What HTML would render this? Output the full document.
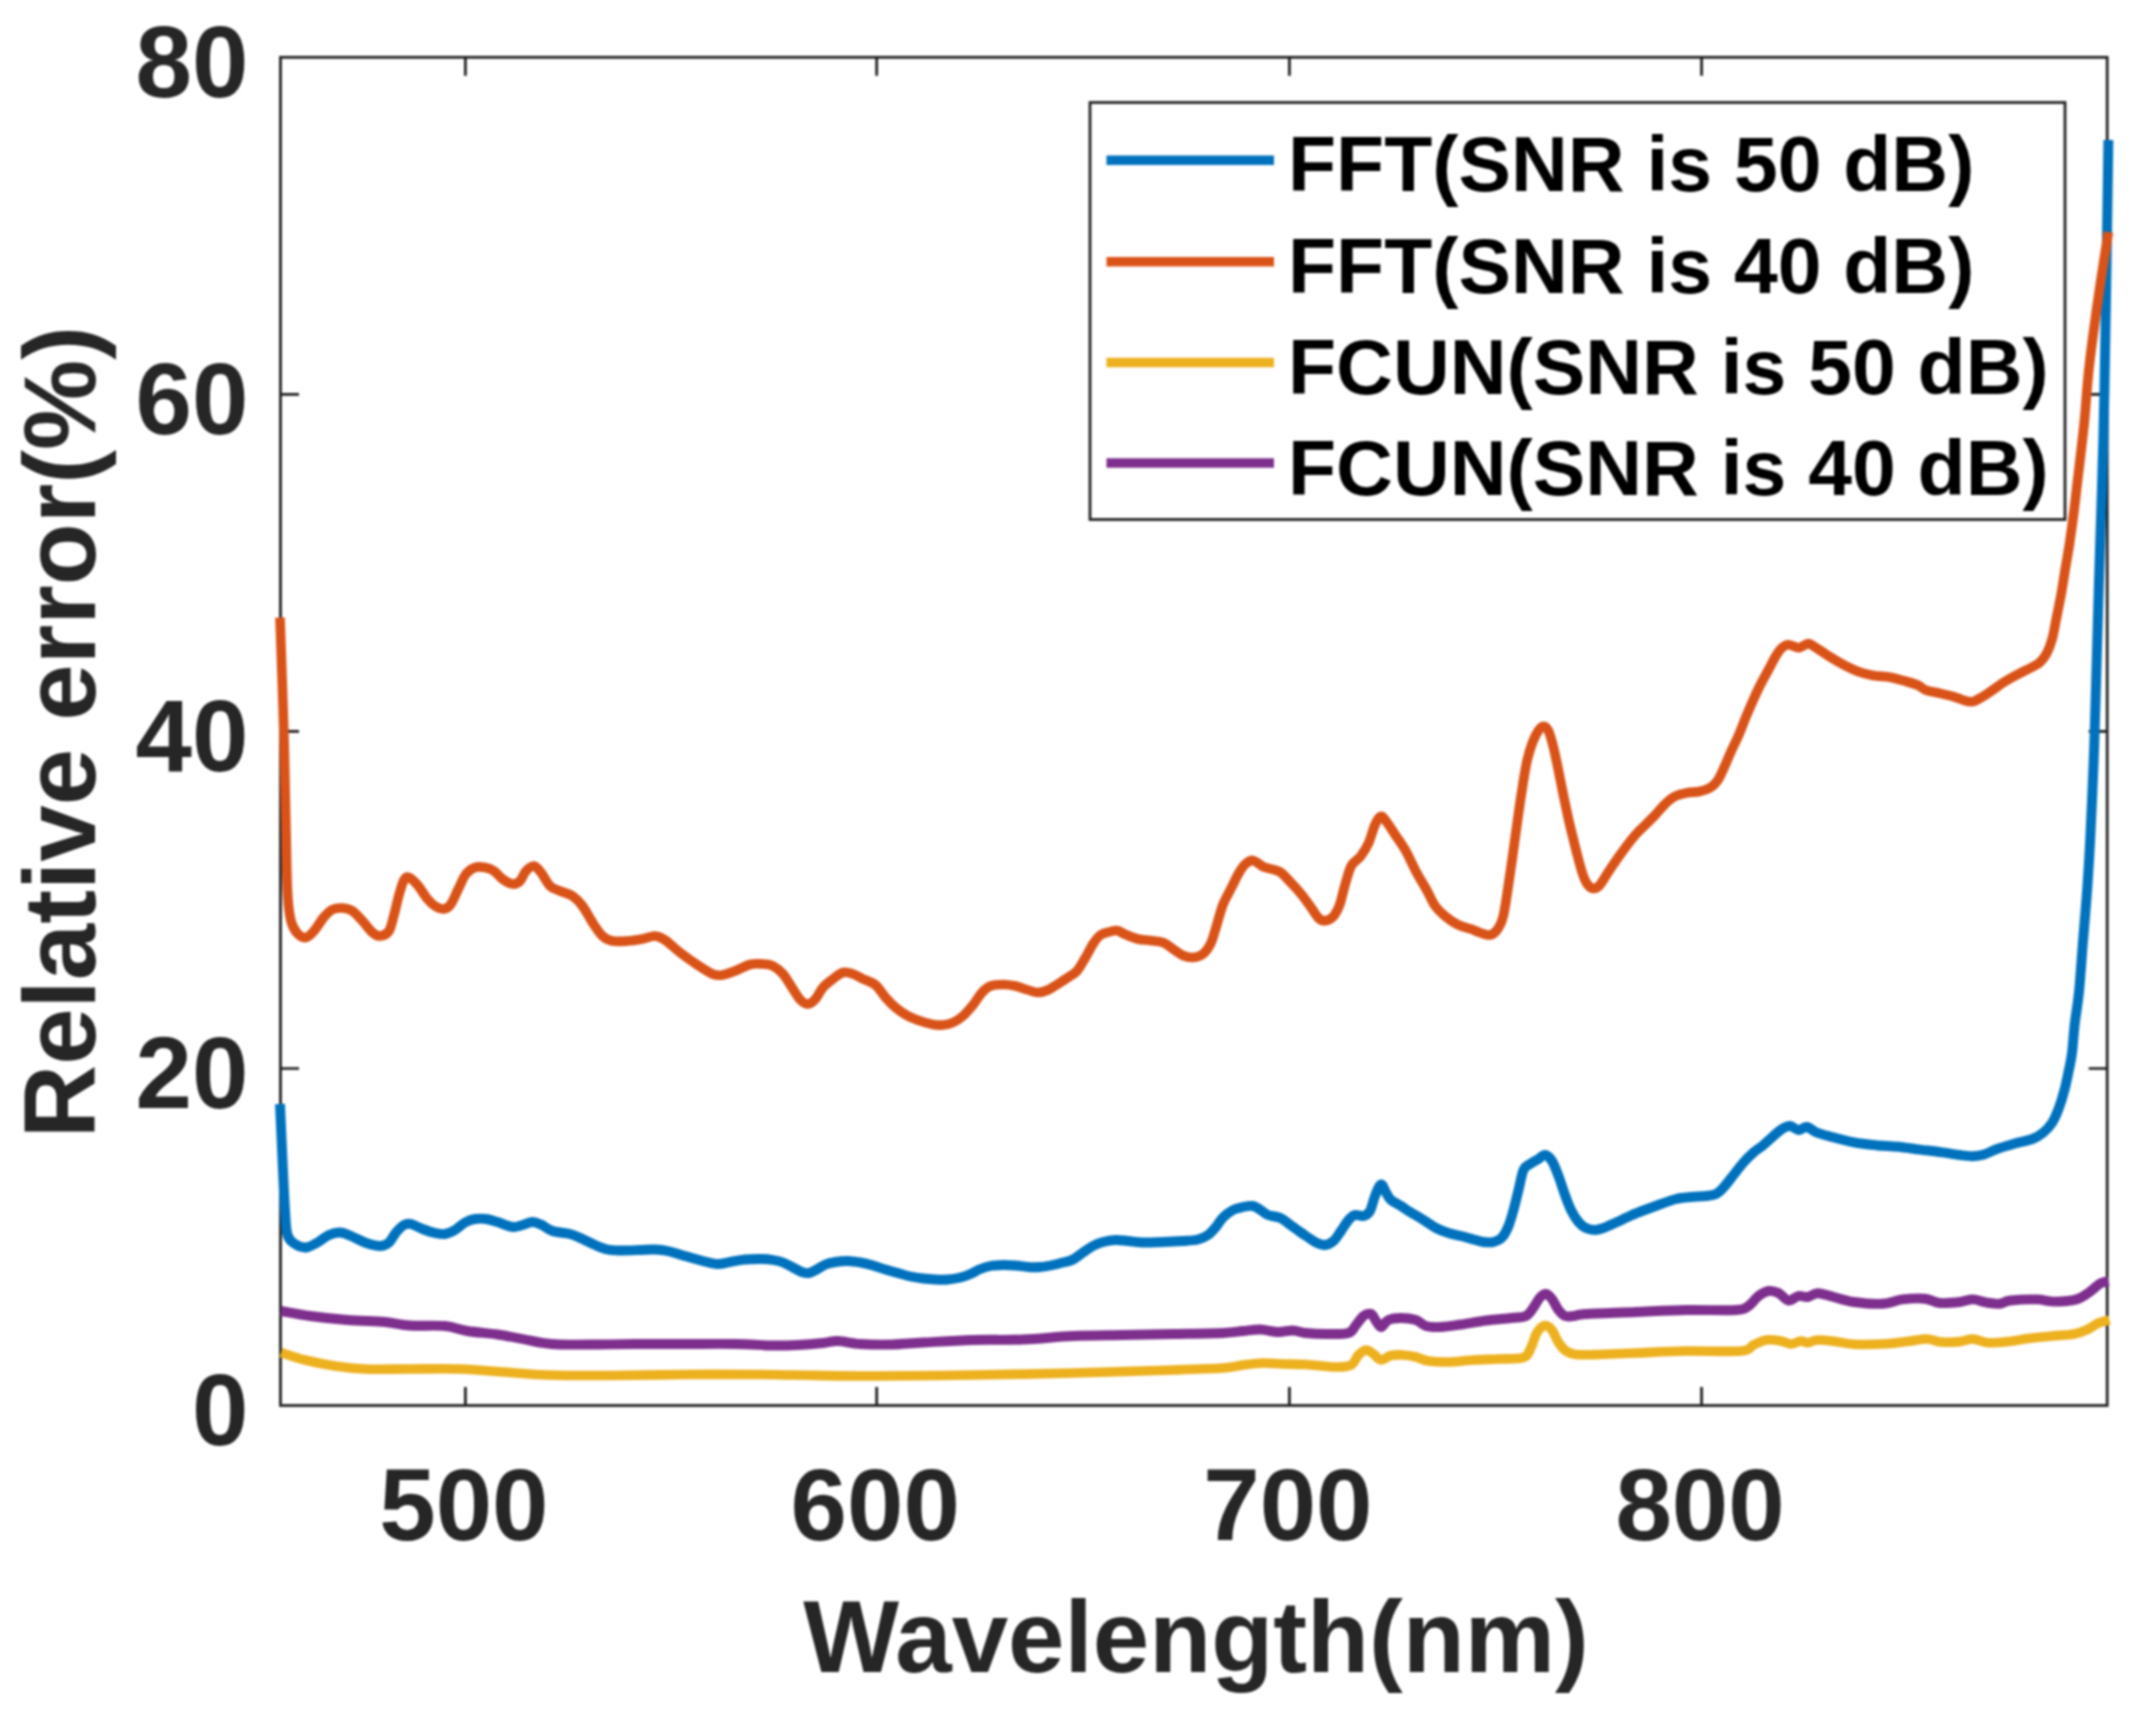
<!DOCTYPE html>
<html lang="en"><head><meta charset="utf-8"><title>Relative error vs wavelength</title>
<style>html,body{margin:0;padding:0;background:#fff;overflow:hidden}svg{display:block;filter:blur(0.8px)}</style></head>
<body>
<svg width="2133" height="1726" viewBox="0 0 2133 1726">
<rect width="2133" height="1726" fill="#fff"/>
<g stroke="#1c1c1c" stroke-width="2.7" fill="none" stroke-linecap="butt">
<rect x="280.5" y="57.3" width="1826.7" height="1348.2"/>
<path d="M465.4,1405.5 v-18.5 M465.4,57.3 v18.5"/>
<path d="M876.7,1405.5 v-18.5 M876.7,57.3 v18.5"/>
<path d="M1289.4,1405.5 v-18.5 M1289.4,57.3 v18.5"/>
<path d="M1701.6,1405.5 v-18.5 M1701.6,57.3 v18.5"/>
<path d="M280.5,1068.5 h18.5 M2107.2,1068.5 h-18.5"/>
<path d="M280.5,731.3 h18.5 M2107.2,731.3 h-18.5"/>
<path d="M280.5,394.3 h18.5 M2107.2,394.3 h-18.5"/>
</g>
<path d="M280.0,1104.0 C280.4,1113.3 281.7,1142.3 282.5,1160.0 C283.3,1177.7 284.2,1197.5 285.0,1210.0 C285.8,1222.5 285.8,1229.3 287.5,1235.0 C289.2,1240.7 291.9,1241.9 295.0,1244.0 C298.1,1246.1 302.2,1247.8 306.0,1247.5 C309.8,1247.2 313.7,1244.6 317.5,1242.5 C321.3,1240.4 325.2,1236.7 329.0,1235.0 C332.8,1233.3 336.3,1232.3 340.0,1232.5 C343.7,1232.7 346.8,1234.3 351.0,1236.0 C355.2,1237.7 360.2,1240.8 365.0,1242.5 C369.8,1244.2 376.0,1246.0 380.0,1246.0 C384.0,1246.0 386.3,1244.8 389.0,1242.5 C391.7,1240.2 393.5,1235.4 396.0,1232.5 C398.5,1229.6 401.5,1226.4 404.0,1225.0 C406.5,1223.6 407.9,1223.3 411.0,1224.0 C414.1,1224.7 418.5,1227.5 422.5,1229.0 C426.5,1230.5 431.2,1232.2 435.0,1233.0 C438.8,1233.8 441.7,1234.5 445.0,1234.0 C448.3,1233.5 451.7,1231.9 455.0,1230.0 C458.3,1228.1 461.7,1224.3 465.0,1222.5 C468.3,1220.7 471.5,1219.6 475.0,1219.0 C478.5,1218.4 482.2,1218.5 486.0,1219.0 C489.8,1219.5 493.1,1220.7 497.5,1222.0 C501.9,1223.3 508.3,1226.5 512.5,1227.0 C516.7,1227.5 519.2,1225.8 522.5,1225.0 C525.8,1224.2 529.4,1222.1 532.5,1222.0 C535.6,1221.9 537.7,1223.0 541.0,1224.5 C544.3,1226.0 547.7,1229.4 552.5,1231.0 C557.3,1232.6 565.0,1232.7 570.0,1234.0 C575.0,1235.3 578.3,1237.2 582.5,1239.0 C586.7,1240.8 590.8,1243.2 595.0,1245.0 C599.2,1246.8 603.3,1248.6 607.5,1249.5 C611.7,1250.4 614.6,1250.4 620.0,1250.5 C625.4,1250.6 634.2,1250.2 640.0,1250.0 C645.8,1249.8 650.4,1249.3 655.0,1249.5 C659.6,1249.7 662.5,1249.9 667.5,1251.0 C672.5,1252.1 679.2,1254.3 685.0,1256.0 C690.8,1257.7 697.1,1259.7 702.5,1261.0 C707.9,1262.3 712.9,1263.8 717.5,1264.0 C722.1,1264.2 725.4,1262.8 730.0,1262.0 C734.6,1261.2 739.6,1260.0 745.0,1259.5 C750.4,1259.0 757.8,1258.9 762.5,1259.0 C767.2,1259.1 769.6,1259.4 773.0,1260.0 C776.4,1260.6 779.7,1261.2 783.0,1262.5 C786.3,1263.8 789.9,1265.9 793.0,1267.5 C796.1,1269.1 799.1,1271.1 801.8,1272.0 C804.5,1272.9 806.5,1273.4 809.0,1273.0 C811.5,1272.6 814.0,1270.9 816.8,1269.5 C819.5,1268.1 822.4,1265.8 825.5,1264.5 C828.6,1263.2 831.8,1262.6 835.5,1262.0 C839.2,1261.4 843.8,1260.9 848.0,1261.0 C852.2,1261.1 856.3,1261.8 860.5,1262.5 C864.7,1263.2 868.8,1264.3 873.0,1265.5 C877.2,1266.7 881.3,1268.2 885.5,1269.5 C889.7,1270.8 893.8,1271.8 898.0,1273.0 C902.2,1274.2 906.3,1275.6 910.5,1276.5 C914.7,1277.4 918.8,1278.0 923.0,1278.5 C927.2,1279.0 931.3,1279.3 935.5,1279.5 C939.7,1279.7 943.8,1279.8 948.0,1279.5 C952.2,1279.2 956.8,1278.4 960.5,1277.5 C964.2,1276.6 967.2,1275.4 970.5,1274.0 C973.8,1272.6 977.2,1270.3 980.5,1269.0 C983.8,1267.7 986.8,1266.7 990.5,1266.0 C994.2,1265.3 998.8,1265.1 1003.0,1265.0 C1007.2,1264.9 1011.3,1265.2 1015.5,1265.5 C1019.7,1265.8 1023.8,1266.8 1028.0,1267.0 C1032.2,1267.2 1036.3,1267.3 1040.5,1267.0 C1044.7,1266.7 1049.2,1265.8 1053.0,1265.0 C1056.8,1264.2 1059.7,1263.4 1063.0,1262.5 C1066.3,1261.6 1069.7,1261.2 1073.0,1259.5 C1076.3,1257.8 1079.7,1254.8 1083.0,1252.5 C1086.3,1250.2 1089.7,1247.8 1093.0,1246.0 C1096.3,1244.2 1099.2,1243.0 1103.0,1242.0 C1106.8,1241.0 1111.3,1240.2 1115.5,1240.0 C1119.7,1239.8 1123.4,1240.6 1128.0,1241.0 C1132.6,1241.4 1137.2,1242.3 1143.0,1242.5 C1148.8,1242.7 1156.3,1242.2 1163.0,1242.0 C1169.7,1241.8 1177.2,1241.4 1183.0,1241.0 C1188.8,1240.6 1193.8,1240.5 1198.0,1239.5 C1202.2,1238.5 1205.1,1237.0 1208.0,1235.0 C1210.9,1233.0 1213.0,1230.4 1215.5,1227.5 C1218.0,1224.6 1220.1,1220.4 1223.0,1217.5 C1225.9,1214.6 1229.7,1211.8 1233.0,1210.0 C1236.3,1208.2 1239.7,1207.7 1243.0,1207.0 C1246.3,1206.3 1250.1,1205.5 1253.0,1206.0 C1255.9,1206.5 1258.0,1208.5 1260.5,1210.0 C1263.0,1211.5 1264.7,1213.7 1268.0,1215.0 C1271.3,1216.3 1276.8,1216.3 1280.5,1218.0 C1284.2,1219.7 1287.9,1223.2 1290.5,1225.0 C1293.1,1226.8 1293.4,1227.2 1296.0,1229.0 C1298.6,1230.8 1302.7,1233.8 1306.0,1236.0 C1309.3,1238.2 1312.8,1241.0 1316.0,1242.5 C1319.2,1244.0 1322.1,1245.2 1325.0,1245.0 C1327.9,1244.8 1330.8,1243.3 1333.5,1241.0 C1336.2,1238.7 1338.5,1234.5 1341.0,1231.0 C1343.5,1227.5 1346.2,1222.7 1348.5,1220.0 C1350.8,1217.3 1352.5,1215.7 1355.0,1215.0 C1357.5,1214.3 1361.0,1216.7 1363.5,1216.0 C1366.0,1215.3 1368.1,1214.3 1370.0,1211.0 C1371.9,1207.7 1373.2,1200.4 1375.0,1196.0 C1376.8,1191.6 1379.2,1185.1 1381.0,1184.5 C1382.8,1183.9 1384.3,1189.9 1386.0,1192.5 C1387.7,1195.1 1388.5,1197.8 1391.0,1200.0 C1393.5,1202.2 1397.7,1203.9 1401.0,1206.0 C1404.3,1208.1 1407.2,1210.2 1411.0,1212.5 C1414.8,1214.8 1419.3,1217.4 1423.5,1220.0 C1427.7,1222.6 1431.8,1225.8 1436.0,1228.0 C1440.2,1230.2 1444.3,1231.7 1448.5,1233.0 C1452.7,1234.3 1456.8,1234.9 1461.0,1236.0 C1465.2,1237.1 1469.8,1238.5 1473.5,1239.5 C1477.2,1240.5 1480.2,1241.6 1483.5,1242.0 C1486.8,1242.4 1490.4,1242.8 1493.5,1242.0 C1496.6,1241.2 1499.5,1240.2 1502.0,1237.5 C1504.5,1234.8 1506.6,1230.6 1508.5,1226.0 C1510.4,1221.4 1511.8,1216.0 1513.5,1210.0 C1515.2,1204.0 1516.8,1196.7 1518.5,1190.0 C1520.2,1183.3 1521.6,1174.3 1523.5,1170.0 C1525.4,1165.7 1527.5,1165.8 1530.0,1164.0 C1532.5,1162.2 1536.0,1160.5 1538.5,1159.0 C1541.0,1157.5 1542.8,1154.7 1545.0,1155.0 C1547.2,1155.3 1549.8,1157.5 1552.0,1161.0 C1554.2,1164.5 1556.3,1170.3 1558.5,1176.0 C1560.7,1181.7 1562.9,1189.3 1565.0,1195.0 C1567.1,1200.7 1568.8,1205.5 1571.0,1210.0 C1573.2,1214.5 1576.0,1219.0 1578.5,1222.0 C1581.0,1225.0 1583.2,1226.7 1586.0,1228.0 C1588.8,1229.3 1592.1,1230.0 1595.0,1230.0 C1597.9,1230.0 1600.0,1229.2 1603.5,1228.0 C1607.0,1226.8 1611.4,1224.6 1616.0,1222.5 C1620.6,1220.4 1626.0,1217.7 1631.0,1215.5 C1636.0,1213.3 1641.0,1211.4 1646.0,1209.5 C1651.0,1207.6 1656.0,1205.8 1661.0,1204.0 C1666.0,1202.2 1671.0,1200.2 1676.0,1199.0 C1681.0,1197.8 1686.0,1197.5 1691.0,1197.0 C1696.0,1196.5 1701.8,1196.5 1706.0,1196.0 C1710.2,1195.5 1713.1,1195.4 1716.0,1194.0 C1718.9,1192.6 1720.6,1190.7 1723.5,1187.5 C1726.4,1184.3 1730.2,1179.2 1733.5,1175.0 C1736.8,1170.8 1740.2,1166.2 1743.5,1162.5 C1746.8,1158.8 1750.2,1155.4 1753.5,1152.5 C1756.8,1149.6 1760.2,1147.8 1763.5,1145.0 C1766.8,1142.2 1770.4,1138.7 1773.5,1136.0 C1776.6,1133.3 1779.2,1130.7 1782.0,1129.0 C1784.8,1127.3 1787.2,1125.8 1790.0,1126.0 C1792.8,1126.2 1795.7,1129.8 1798.5,1130.0 C1801.3,1130.2 1804.0,1126.6 1807.0,1127.0 C1810.0,1127.4 1812.4,1130.8 1816.6,1132.5 C1820.8,1134.2 1825.8,1135.3 1832.0,1137.0 C1838.2,1138.7 1846.7,1141.0 1854.0,1142.4 C1861.3,1143.8 1868.7,1144.5 1876.0,1145.2 C1883.3,1145.9 1890.7,1146.1 1898.0,1146.8 C1905.3,1147.5 1912.7,1148.7 1920.0,1149.6 C1927.3,1150.5 1935.4,1151.4 1942.0,1152.3 C1948.6,1153.2 1954.5,1154.3 1959.7,1155.0 C1964.9,1155.7 1969.0,1156.3 1973.0,1156.2 C1977.0,1156.1 1980.0,1155.7 1984.0,1154.5 C1988.0,1153.3 1991.9,1150.8 1997.0,1149.0 C2002.1,1147.2 2008.9,1145.2 2014.8,1143.5 C2020.7,1141.8 2027.6,1140.8 2032.4,1139.0 C2037.2,1137.2 2040.1,1135.2 2043.4,1132.5 C2046.7,1129.8 2049.6,1126.6 2052.2,1122.6 C2054.8,1118.6 2056.8,1113.6 2058.8,1108.3 C2060.8,1103.0 2062.7,1096.8 2064.3,1090.6 C2066.0,1084.3 2067.4,1077.0 2068.7,1070.8 C2070.0,1064.6 2071.0,1061.1 2072.0,1053.2 C2073.0,1045.3 2073.6,1033.5 2074.8,1023.3 C2076.0,1013.1 2077.6,1005.9 2079.0,992.0 C2080.4,978.1 2081.7,957.3 2083.1,939.9 C2084.5,922.5 2086.1,905.1 2087.3,887.7 C2088.5,870.3 2089.4,856.5 2090.4,835.6 C2091.4,814.8 2092.7,785.2 2093.6,762.6 C2094.5,740.0 2094.7,730.4 2095.6,700.0 C2096.5,669.6 2097.7,623.3 2099.0,580.0 C2100.3,536.7 2102.1,486.7 2103.3,440.0 C2104.5,393.3 2105.2,350.0 2106.0,300.0 C2106.8,250.0 2108.0,166.7 2108.4,140.0" fill="none" stroke="#0072BD" stroke-width="9.9" stroke-linejoin="round" stroke-linecap="butt"/>
<path d="M280.0,617.5 C280.6,636.2 282.8,694.6 283.8,730.0 C284.8,765.4 285.4,803.0 286.0,830.0 C286.6,857.0 286.7,876.8 287.5,892.0 C288.3,907.2 289.3,914.1 291.0,921.0 C292.7,927.9 295.0,930.8 297.5,933.5 C300.0,936.2 303.2,937.9 306.0,937.5 C308.8,937.1 311.0,934.4 314.0,931.0 C317.0,927.6 320.9,920.6 324.0,917.0 C327.1,913.4 329.4,911.0 332.5,909.5 C335.6,908.0 339.2,907.8 342.5,908.0 C345.8,908.2 349.2,908.8 352.5,911.0 C355.8,913.2 359.2,917.4 362.5,921.0 C365.8,924.6 369.6,930.0 372.5,932.5 C375.4,935.0 377.2,936.2 380.0,936.0 C382.8,935.8 386.7,934.5 389.0,931.0 C391.3,927.5 392.3,921.0 394.0,915.0 C395.7,909.0 397.3,900.8 399.0,895.0 C400.7,889.2 402.3,882.9 404.0,880.0 C405.7,877.1 406.8,876.7 409.0,877.5 C411.2,878.3 414.4,881.4 417.5,885.0 C420.6,888.6 424.6,895.5 427.5,899.0 C430.4,902.5 432.2,904.3 435.0,906.0 C437.8,907.7 441.3,909.3 444.0,909.0 C446.7,908.7 448.5,907.6 451.0,904.0 C453.5,900.4 456.5,892.5 459.0,887.5 C461.5,882.5 463.3,877.3 466.0,874.0 C468.7,870.7 471.8,868.6 475.0,867.5 C478.2,866.4 481.8,866.9 485.0,867.5 C488.2,868.1 491.1,869.1 494.0,871.0 C496.9,872.9 499.4,876.8 502.5,879.0 C505.6,881.2 509.6,883.7 512.5,884.0 C515.4,884.3 517.8,883.2 520.0,881.0 C522.2,878.8 523.7,873.5 526.0,871.0 C528.3,868.5 531.5,865.8 534.0,866.0 C536.5,866.2 538.3,869.2 541.0,872.5 C543.7,875.8 546.8,882.9 550.0,886.0 C553.2,889.1 556.2,889.3 560.0,891.0 C563.8,892.7 568.8,893.5 572.5,896.0 C576.2,898.5 579.2,901.6 582.5,906.0 C585.8,910.4 589.2,917.5 592.5,922.5 C595.8,927.5 599.2,932.9 602.5,936.0 C605.8,939.1 608.3,940.2 612.5,941.0 C616.7,941.8 622.5,941.3 627.5,941.0 C632.5,940.7 637.9,939.8 642.5,939.0 C647.1,938.2 651.2,935.8 655.0,936.0 C658.8,936.2 660.8,937.2 665.0,940.0 C669.2,942.8 674.6,948.3 680.0,952.5 C685.4,956.7 692.1,961.4 697.5,965.0 C702.9,968.6 708.3,972.3 712.5,974.0 C716.7,975.7 718.8,975.5 722.5,975.0 C726.2,974.5 730.4,972.8 735.0,971.0 C739.6,969.2 745.4,965.7 750.0,964.5 C754.6,963.3 758.7,963.8 762.5,964.0 C766.3,964.2 769.6,964.3 773.0,966.0 C776.4,967.7 779.8,970.4 783.0,974.0 C786.2,977.6 789.1,983.2 792.0,987.5 C794.9,991.8 797.8,997.2 800.5,1000.0 C803.2,1002.8 805.5,1004.2 808.0,1004.0 C810.5,1003.8 813.0,1001.8 815.5,999.0 C818.0,996.2 820.1,990.8 823.0,987.5 C825.9,984.2 829.7,981.5 833.0,979.0 C836.3,976.5 839.7,973.3 843.0,972.5 C846.3,971.7 849.7,972.9 853.0,974.0 C856.3,975.1 859.2,977.2 863.0,979.0 C866.8,980.8 871.8,981.9 875.5,985.0 C879.2,988.1 882.2,993.8 885.5,997.5 C888.8,1001.2 891.8,1004.4 895.5,1007.5 C899.2,1010.6 903.8,1013.8 908.0,1016.0 C912.2,1018.2 916.3,1019.6 920.5,1021.0 C924.7,1022.4 929.2,1023.8 933.0,1024.5 C936.8,1025.2 939.7,1025.3 943.0,1025.0 C946.3,1024.7 949.7,1024.0 953.0,1022.5 C956.3,1021.0 959.7,1018.9 963.0,1016.0 C966.3,1013.1 969.8,1008.9 973.0,1005.0 C976.2,1001.1 979.1,995.7 982.0,992.5 C984.9,989.3 987.0,987.3 990.5,986.0 C994.0,984.7 998.8,984.5 1003.0,984.5 C1007.2,984.5 1011.3,985.1 1015.5,986.0 C1019.7,986.9 1024.2,988.9 1028.0,990.0 C1031.8,991.1 1034.7,992.5 1038.0,992.5 C1041.3,992.5 1044.7,991.4 1048.0,990.0 C1051.3,988.6 1054.7,986.1 1058.0,984.0 C1061.3,981.9 1064.8,979.7 1068.0,977.5 C1071.2,975.3 1074.1,974.3 1077.0,971.0 C1079.9,967.7 1082.8,962.0 1085.5,957.5 C1088.2,953.0 1090.5,947.8 1093.0,944.0 C1095.5,940.2 1097.8,937.0 1100.5,935.0 C1103.2,933.0 1106.2,932.8 1109.0,932.0 C1111.8,931.2 1114.2,930.1 1117.0,930.5 C1119.8,930.9 1122.0,933.1 1125.5,934.5 C1129.0,935.9 1133.8,938.0 1138.0,939.0 C1142.2,940.0 1146.3,939.9 1150.5,940.5 C1154.7,941.1 1159.2,941.1 1163.0,942.5 C1166.8,943.9 1169.7,946.8 1173.0,949.0 C1176.3,951.2 1179.7,954.1 1183.0,955.5 C1186.3,956.9 1189.7,957.8 1193.0,957.5 C1196.3,957.2 1200.1,956.2 1203.0,954.0 C1205.9,951.8 1208.5,947.8 1210.5,944.0 C1212.5,940.2 1212.9,937.7 1214.9,931.2 C1217.0,924.7 1220.2,912.0 1222.8,905.0 C1225.4,898.0 1228.1,894.5 1230.7,889.2 C1233.3,884.0 1236.2,877.6 1238.6,873.5 C1241.0,869.4 1242.7,866.5 1245.1,864.3 C1247.5,862.1 1249.9,860.0 1253.0,860.4 C1256.1,860.8 1259.1,865.0 1263.5,866.9 C1267.9,868.8 1274.8,869.1 1279.2,871.5 C1283.6,873.9 1286.0,877.6 1289.7,881.4 C1293.4,885.2 1297.8,889.9 1301.5,894.5 C1305.2,899.1 1309.2,905.0 1312.0,908.9 C1314.8,912.8 1316.4,916.1 1318.6,918.1 C1320.8,920.1 1322.8,920.9 1325.2,920.7 C1327.6,920.5 1330.6,919.4 1333.0,916.8 C1335.4,914.2 1337.6,910.2 1339.6,905.0 C1341.6,899.8 1342.9,891.9 1344.9,885.3 C1346.9,878.7 1348.8,870.4 1351.4,865.6 C1354.0,860.8 1357.8,860.1 1360.6,856.4 C1363.4,852.7 1366.1,848.5 1368.5,843.3 C1370.9,838.0 1372.9,829.4 1375.0,824.9 C1377.1,820.4 1378.9,816.8 1380.9,816.4 C1382.9,816.0 1384.6,819.3 1386.9,822.3 C1389.2,825.2 1391.7,829.5 1394.7,834.1 C1397.8,838.7 1401.7,843.8 1405.2,849.9 C1408.7,856.0 1412.2,864.3 1415.7,870.9 C1419.2,877.5 1422.9,883.3 1426.2,889.2 C1429.5,895.1 1432.1,901.7 1435.4,906.3 C1438.7,910.9 1442.2,913.7 1445.9,916.8 C1449.6,919.9 1453.5,922.7 1457.7,924.7 C1461.9,926.7 1467.1,927.6 1471.0,929.0 C1474.9,930.4 1477.8,932.0 1481.0,933.0 C1484.2,934.0 1487.3,935.5 1490.0,935.0 C1492.7,934.5 1494.8,933.3 1497.0,930.0 C1499.2,926.7 1501.2,924.9 1503.5,915.0 C1505.8,905.1 1508.6,883.2 1510.5,870.7 C1512.4,858.2 1513.4,850.4 1514.8,840.2 C1516.2,830.1 1517.7,818.9 1519.0,809.8 C1520.3,800.7 1521.4,793.5 1522.7,785.4 C1524.0,777.3 1525.4,768.1 1527.0,761.0 C1528.6,753.9 1530.5,747.8 1532.4,742.7 C1534.3,737.6 1536.7,733.2 1538.5,730.5 C1540.3,727.8 1541.8,726.2 1543.4,726.2 C1545.0,726.2 1546.7,727.1 1548.3,730.5 C1549.9,733.9 1551.6,740.0 1553.2,746.3 C1554.8,752.6 1556.4,760.6 1558.0,768.3 C1559.6,776.0 1561.3,784.8 1562.9,792.7 C1564.5,800.6 1566.2,808.6 1567.8,815.9 C1569.4,823.2 1571.1,829.9 1572.7,836.6 C1574.3,843.3 1576.0,850.0 1577.6,856.1 C1579.2,862.2 1580.8,868.5 1582.4,873.2 C1584.0,877.9 1585.5,881.6 1587.3,884.1 C1589.1,886.6 1591.4,888.2 1593.4,888.4 C1595.4,888.6 1597.3,887.7 1599.5,885.4 C1601.7,883.1 1604.0,878.7 1606.8,874.4 C1609.6,870.1 1613.3,864.5 1616.6,859.8 C1619.8,855.1 1623.0,850.6 1626.3,846.3 C1629.5,842.0 1632.8,837.8 1636.1,834.1 C1639.4,830.5 1642.7,827.6 1645.9,824.4 C1649.2,821.1 1652.3,818.0 1655.6,814.6 C1658.8,811.2 1662.2,806.8 1665.4,803.7 C1668.7,800.7 1671.4,798.1 1675.1,796.3 C1678.8,794.5 1683.2,793.5 1687.3,792.7 C1691.4,791.9 1695.6,792.4 1699.5,791.5 C1703.4,790.6 1707.9,789.2 1710.9,787.3 C1714.0,785.4 1715.7,783.4 1717.8,780.3 C1719.9,777.2 1721.5,773.3 1723.6,768.7 C1725.7,764.1 1728.1,758.1 1730.6,752.5 C1733.1,746.9 1736.2,740.9 1738.7,735.1 C1741.2,729.3 1743.3,723.4 1745.6,717.8 C1747.9,712.2 1750.3,706.7 1752.6,701.5 C1754.9,696.3 1757.0,691.5 1759.5,686.5 C1762.0,681.5 1764.9,676.4 1767.6,671.4 C1770.3,666.4 1773.4,660.2 1775.7,656.3 C1778.0,652.4 1779.4,650.1 1781.5,648.2 C1783.6,646.3 1785.6,644.9 1788.5,644.8 C1791.4,644.7 1795.6,647.9 1798.9,647.7 C1802.2,647.5 1805.5,643.7 1808.2,643.6 C1810.9,643.5 1811.6,645.0 1815.1,647.1 C1818.6,649.2 1824.3,653.4 1829.0,656.3 C1833.7,659.2 1838.2,662.0 1843.0,664.5 C1847.8,667.0 1853.0,669.6 1858.0,671.4 C1863.0,673.2 1867.8,674.5 1873.1,675.5 C1878.4,676.5 1884.9,676.3 1890.0,677.2 C1895.1,678.1 1898.9,679.4 1903.5,680.7 C1908.1,682.0 1913.7,683.4 1917.5,685.0 C1921.3,686.6 1922.7,689.0 1926.2,690.3 C1929.7,691.6 1934.1,692.0 1938.5,693.0 C1942.9,694.0 1948.4,695.2 1952.5,696.4 C1956.6,697.6 1959.8,699.1 1963.0,700.0 C1966.2,700.9 1968.8,702.0 1971.7,701.7 C1974.6,701.4 1977.2,699.8 1980.4,698.0 C1983.6,696.2 1986.9,694.0 1991.0,691.2 C1995.1,688.5 2000.3,684.4 2005.0,681.5 C2009.7,678.6 2014.6,676.0 2019.0,673.7 C2023.4,671.4 2027.7,669.5 2031.2,667.6 C2034.7,665.7 2037.4,664.8 2040.0,662.3 C2042.6,659.8 2045.0,656.6 2047.0,652.7 C2049.0,648.8 2050.6,644.5 2052.2,638.7 C2053.8,632.9 2055.0,625.0 2056.5,617.7 C2058.0,610.4 2059.5,603.2 2061.0,595.0 C2062.5,586.8 2063.9,577.5 2065.3,568.7 C2066.8,560.0 2068.2,552.1 2069.7,542.5 C2071.1,532.9 2072.7,521.2 2074.0,511.0 C2075.3,500.8 2076.3,491.1 2077.5,481.2 C2078.7,471.3 2079.8,461.7 2081.0,451.5 C2082.2,441.3 2083.1,434.5 2084.5,420.0 C2085.9,405.5 2087.0,385.3 2089.4,364.5 C2091.8,343.7 2095.5,317.1 2098.7,295.0 C2101.9,272.9 2106.8,242.5 2108.4,232.0" fill="none" stroke="#D95319" stroke-width="9.6" stroke-linejoin="round" stroke-linecap="butt"/>
<path d="M281.0,1352.5 C285.0,1353.8 296.0,1357.8 305.0,1360.0 C314.0,1362.2 325.0,1364.5 335.0,1366.0 C345.0,1367.5 352.5,1368.5 365.0,1369.0 C377.5,1369.5 394.2,1369.0 410.0,1369.0 C425.8,1369.0 443.3,1368.4 460.0,1369.0 C476.7,1369.6 495.4,1371.5 510.0,1372.5 C524.6,1373.5 530.8,1374.5 547.5,1375.0 C564.2,1375.5 587.1,1375.6 610.0,1375.5 C632.9,1375.4 660.0,1374.7 685.0,1374.5 C710.0,1374.3 742.0,1374.4 760.0,1374.5 C778.0,1374.6 774.2,1374.8 793.0,1375.0 C811.8,1375.2 843.0,1376.0 873.0,1376.0 C903.0,1376.0 939.7,1375.5 973.0,1375.0 C1006.3,1374.5 1039.7,1373.8 1073.0,1373.0 C1106.3,1372.2 1148.0,1370.8 1173.0,1370.0 C1198.0,1369.2 1211.3,1368.8 1223.0,1368.0 C1234.7,1367.2 1236.3,1365.8 1243.0,1365.0 C1249.7,1364.2 1256.3,1363.2 1263.0,1363.0 C1269.7,1362.8 1275.8,1363.8 1283.0,1364.0 C1290.2,1364.2 1297.2,1364.0 1306.0,1364.5 C1314.8,1365.0 1328.5,1366.9 1336.0,1367.0 C1343.5,1367.1 1347.2,1367.0 1351.0,1365.0 C1354.8,1363.0 1356.0,1357.5 1358.5,1355.0 C1361.0,1352.5 1363.5,1350.2 1366.0,1350.0 C1368.5,1349.8 1371.0,1352.3 1373.5,1354.0 C1376.0,1355.7 1378.1,1359.8 1381.0,1360.0 C1383.9,1360.2 1387.2,1356.3 1391.0,1355.5 C1394.8,1354.7 1399.3,1354.8 1403.5,1355.0 C1407.7,1355.2 1411.8,1356.0 1416.0,1357.0 C1420.2,1358.0 1423.1,1360.2 1428.5,1361.0 C1433.9,1361.8 1441.0,1362.2 1448.5,1362.0 C1456.0,1361.8 1465.2,1360.5 1473.5,1360.0 C1481.8,1359.5 1490.2,1359.4 1498.5,1359.0 C1506.8,1358.6 1518.1,1359.4 1523.5,1357.5 C1528.9,1355.6 1528.8,1351.7 1531.0,1347.5 C1533.2,1343.3 1534.7,1336.2 1537.0,1332.5 C1539.3,1328.8 1542.5,1325.9 1545.0,1325.5 C1547.5,1325.1 1549.8,1327.2 1552.0,1330.0 C1554.2,1332.8 1556.2,1339.0 1558.5,1342.5 C1560.8,1346.0 1563.1,1349.0 1566.0,1351.0 C1568.9,1353.0 1570.6,1353.9 1576.0,1354.5 C1581.4,1355.1 1588.5,1354.8 1598.5,1354.5 C1608.5,1354.2 1621.4,1353.6 1636.0,1353.0 C1650.6,1352.4 1668.5,1351.3 1686.0,1351.0 C1703.5,1350.7 1729.8,1352.0 1741.0,1351.0 C1752.2,1350.0 1749.3,1346.8 1753.5,1345.0 C1757.7,1343.2 1761.4,1340.7 1766.0,1340.0 C1770.6,1339.3 1776.8,1340.3 1781.0,1341.0 C1785.2,1341.7 1787.7,1344.0 1791.0,1344.0 C1794.3,1344.0 1798.2,1341.2 1801.0,1341.0 C1803.8,1340.8 1805.0,1342.9 1807.8,1342.7 C1810.6,1342.5 1813.3,1340.2 1817.7,1340.0 C1822.1,1339.8 1828.0,1340.5 1834.0,1341.2 C1840.0,1341.9 1845.2,1343.9 1854.0,1344.3 C1862.8,1344.7 1877.8,1344.3 1887.0,1343.8 C1896.2,1343.3 1902.4,1342.0 1909.0,1341.2 C1915.6,1340.4 1921.2,1338.9 1926.7,1339.0 C1932.2,1339.1 1936.5,1341.6 1942.0,1342.0 C1947.5,1342.4 1954.5,1342.1 1959.7,1341.6 C1964.9,1341.1 1968.2,1338.8 1973.0,1339.0 C1977.8,1339.2 1982.5,1342.3 1988.3,1342.7 C1994.1,1343.1 2001.0,1342.3 2008.0,1341.6 C2015.0,1340.9 2022.6,1339.2 2030.0,1338.3 C2037.4,1337.4 2044.8,1336.7 2052.2,1336.0 C2059.6,1335.3 2068.3,1335.1 2074.2,1334.0 C2080.1,1332.9 2083.4,1331.3 2087.4,1329.5 C2091.4,1327.7 2094.7,1324.6 2098.4,1323.0 C2102.1,1321.4 2107.7,1320.5 2109.5,1320.0" fill="none" stroke="#EDB120" stroke-width="9.6" stroke-linejoin="round" stroke-linecap="butt"/>
<path d="M281.0,1311.0 C285.8,1311.8 298.9,1314.5 310.0,1316.0 C321.1,1317.5 335.0,1319.0 347.5,1320.0 C360.0,1321.0 374.6,1321.1 385.0,1322.0 C395.4,1322.9 400.0,1324.8 410.0,1325.5 C420.0,1326.2 435.4,1325.1 445.0,1326.0 C454.6,1326.9 458.8,1329.6 467.5,1331.0 C476.2,1332.4 488.3,1333.2 497.5,1334.5 C506.7,1335.8 515.4,1337.7 522.5,1339.0 C529.6,1340.3 533.8,1341.6 540.0,1342.5 C546.2,1343.4 550.4,1344.2 560.0,1344.5 C569.6,1344.8 585.0,1344.6 597.5,1344.5 C610.0,1344.4 620.4,1344.1 635.0,1344.0 C649.6,1343.9 668.3,1344.0 685.0,1344.0 C701.7,1344.0 720.3,1343.8 735.0,1344.0 C749.7,1344.2 762.5,1345.3 773.0,1345.5 C783.5,1345.7 789.7,1345.4 798.0,1345.0 C806.3,1344.6 816.3,1343.7 823.0,1343.0 C829.7,1342.3 831.8,1340.8 838.0,1341.0 C844.2,1341.2 851.3,1343.4 860.5,1344.0 C869.7,1344.6 882.6,1344.8 893.0,1344.5 C903.4,1344.2 909.7,1343.2 923.0,1342.5 C936.3,1341.8 956.3,1340.5 973.0,1340.0 C989.7,1339.5 1006.3,1340.2 1023.0,1339.5 C1039.7,1338.8 1056.3,1336.8 1073.0,1336.0 C1089.7,1335.2 1106.3,1335.3 1123.0,1335.0 C1139.7,1334.7 1156.3,1334.3 1173.0,1334.0 C1189.7,1333.7 1211.3,1333.5 1223.0,1333.0 C1234.7,1332.5 1236.8,1331.6 1243.0,1331.0 C1249.2,1330.4 1254.7,1329.3 1260.5,1329.5 C1266.3,1329.7 1272.6,1331.8 1278.0,1332.0 C1283.4,1332.2 1288.3,1330.3 1293.0,1330.5 C1297.7,1330.7 1300.5,1332.4 1306.0,1333.0 C1311.5,1333.6 1318.9,1334.0 1326.0,1334.0 C1333.1,1334.0 1343.5,1334.5 1348.5,1333.0 C1353.5,1331.5 1353.5,1327.8 1356.0,1325.0 C1358.5,1322.2 1361.0,1317.8 1363.5,1316.0 C1366.0,1314.2 1368.9,1313.2 1371.0,1314.0 C1373.1,1314.8 1374.3,1318.8 1376.0,1321.0 C1377.7,1323.2 1378.9,1327.2 1381.0,1327.0 C1383.1,1326.8 1385.2,1321.5 1388.5,1320.0 C1391.8,1318.5 1396.4,1318.0 1401.0,1318.0 C1405.6,1318.0 1411.8,1318.7 1416.0,1320.0 C1420.2,1321.3 1421.8,1324.8 1426.0,1326.0 C1430.2,1327.2 1435.2,1327.2 1441.0,1327.0 C1446.8,1326.8 1453.5,1325.6 1461.0,1324.5 C1468.5,1323.4 1477.7,1321.6 1486.0,1320.5 C1494.3,1319.4 1504.3,1318.8 1511.0,1318.0 C1517.7,1317.2 1522.2,1317.8 1526.0,1316.0 C1529.8,1314.2 1531.2,1310.6 1533.5,1307.5 C1535.8,1304.4 1537.9,1299.8 1540.0,1297.5 C1542.1,1295.2 1544.0,1293.8 1546.0,1294.0 C1548.0,1294.2 1549.9,1296.3 1552.0,1299.0 C1554.1,1301.7 1556.3,1307.2 1558.5,1310.0 C1560.7,1312.8 1562.5,1315.0 1565.0,1316.0 C1567.5,1317.0 1570.0,1316.3 1573.5,1316.0 C1577.0,1315.7 1575.6,1314.7 1586.0,1314.0 C1596.4,1313.3 1619.3,1312.7 1636.0,1312.0 C1652.7,1311.3 1669.3,1310.3 1686.0,1310.0 C1702.7,1309.7 1725.6,1310.7 1736.0,1310.0 C1746.4,1309.3 1744.8,1308.3 1748.5,1306.0 C1752.2,1303.7 1755.2,1298.5 1758.5,1296.0 C1761.8,1293.5 1765.2,1291.5 1768.5,1291.0 C1771.8,1290.5 1775.2,1291.4 1778.5,1293.0 C1781.8,1294.6 1785.2,1300.0 1788.5,1300.5 C1791.8,1301.0 1795.3,1296.6 1798.5,1296.0 C1801.7,1295.4 1804.6,1297.5 1807.8,1297.0 C1811.0,1296.5 1813.7,1293.3 1817.7,1293.2 C1821.7,1293.1 1826.0,1295.0 1832.0,1296.5 C1838.0,1298.0 1845.5,1300.8 1854.0,1302.0 C1862.5,1303.2 1874.6,1304.2 1882.7,1303.8 C1890.8,1303.4 1895.5,1300.2 1902.5,1299.4 C1909.5,1298.6 1918.2,1298.1 1924.5,1298.7 C1930.8,1299.3 1934.1,1302.5 1940.0,1303.0 C1945.9,1303.5 1954.2,1302.6 1959.7,1302.0 C1965.2,1301.4 1968.6,1299.3 1973.0,1299.4 C1977.4,1299.5 1981.6,1301.7 1986.0,1302.4 C1990.4,1303.1 1995.3,1304.1 1999.4,1303.8 C2003.5,1303.5 2004.2,1301.2 2010.4,1300.5 C2016.6,1299.8 2029.5,1299.2 2036.8,1299.4 C2044.1,1299.6 2047.8,1301.6 2054.4,1301.6 C2061.0,1301.6 2070.5,1301.0 2076.4,1299.4 C2082.3,1297.8 2085.6,1294.7 2089.6,1292.0 C2093.6,1289.3 2097.4,1285.1 2100.6,1283.3 C2103.8,1281.5 2107.2,1281.6 2108.5,1281.3" fill="none" stroke="#7E2F8E" stroke-width="9.9" stroke-linejoin="round" stroke-linecap="butt"/>
<g font-family="Liberation Sans, Arial, Helvetica, sans-serif" font-weight="bold" fill="#262626" font-size="101.5">
<text x="463.9" y="1540" text-anchor="middle">500</text>
<text x="875.2" y="1540" text-anchor="middle">600</text>
<text x="1287.9" y="1540" text-anchor="middle">700</text>
<text x="1700.1" y="1540" text-anchor="middle">800</text>
<text x="248.5" y="1445.3" text-anchor="end">0</text>
<text x="248.5" y="1108.3" text-anchor="end">20</text>
<text x="248.5" y="771.1" text-anchor="end">40</text>
<text x="248.5" y="434.1" text-anchor="end">60</text>
<text x="248.5" y="97.1" text-anchor="end">80</text>
<text x="1196" y="1671.5" text-anchor="middle">Wavelength(nm)</text>
<text transform="translate(95,732) rotate(-90)" text-anchor="middle">Relative error(%)</text>
</g>
<rect x="1090" y="102.5" width="975" height="417.0" fill="#fff" stroke="#1c1c1c" stroke-width="2.7"/>
<g font-family="Liberation Sans, Arial, Helvetica, sans-serif" font-weight="bold" fill="#000" font-size="78.7">
<path d="M1106.5,160.2 H1274" stroke="#0072BD" stroke-width="9.6" fill="none"/>
<text x="1288" y="190.8">FFT(SNR is 50 dB)</text>
<path d="M1106.5,261.8 H1274" stroke="#D95319" stroke-width="9.6" fill="none"/>
<text x="1288" y="292.7">FFT(SNR is 40 dB)</text>
<path d="M1106.5,362.5 H1274" stroke="#EDB120" stroke-width="9.6" fill="none"/>
<text x="1288" y="393.6">FCUN(SNR is 50 dB)</text>
<path d="M1106.5,463 H1274" stroke="#7E2F8E" stroke-width="9.6" fill="none"/>
<text x="1288" y="495.0">FCUN(SNR is 40 dB)</text>
</g>
</svg>
</body></html>
